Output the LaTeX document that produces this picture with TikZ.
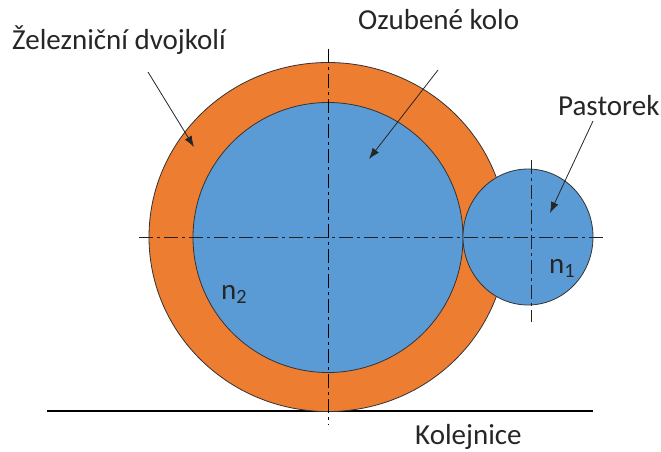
\documentclass[tikz,border=0pt]{standalone}
\usepackage{fontspec}
\setmainfont{Carlito}
\definecolor{wheelor}{HTML}{ED7D31}
\definecolor{gearbl}{HTML}{5B9BD5}
\definecolor{axisc}{HTML}{222222}
\usetikzlibrary{arrows.meta}
\tikzset{
  x=1pt,y=-1pt,
  wheel/.style={draw=black!80!white,line width=0.8pt},
  axisline/.style={draw=axisc,line width=0.9pt,dash pattern=on 14pt off 4pt on 3pt off 4pt},
  mainaxis/.style={draw=black,line width=1.1pt,dash pattern=on 14pt off 4pt on 3pt off 4pt},
  pointer/.style={draw=black!85!white,line width=0.8pt,-{Latex[length=11pt,width=8pt]}},
  rail/.style={draw=black,line width=2.2pt},
  lbl/.style={font=\fontsize{29}{32}\selectfont,text=black!85!white,inner sep=0pt,anchor=base west},
}
\begin{document}
\begin{tikzpicture}
\useasboundingbox (0,0) rectangle (661,452);
\coordinate (rA) at (47,411);
\coordinate (rB) at (593,411);
\draw[rail] (rA) -- (rB);
\filldraw[wheel,fill=wheelor] (328,237) ellipse [x radius=179,y radius=174.5];
\filldraw[wheel,fill=gearbl] (328,237.5) circle [radius=135];
\filldraw[wheel,fill=gearbl] (528,237) ellipse [x radius=65,y radius=68];
\coordinate (h1) at (139,237);
\coordinate (h2) at (606,237);
\coordinate (v1a) at (328.5,49);
\coordinate (v1b) at (328.5,425);
\coordinate (v2a) at (531,160);
\coordinate (v2b) at (531,322);
\draw[axisline] (h1) -- (h2);
\draw[mainaxis] (v1a) -- (v1b);
\draw[axisline] (v2a) -- (v2b);
\coordinate (a1) at (148,72);
\coordinate (a1e) at (194,147);
\coordinate (a2) at (438,70);
\coordinate (a2e) at (369,159);
\coordinate (a3) at (593,121);
\coordinate (a3e) at (550,213);
\draw[pointer] (a1) -- (a1e);
\draw[pointer] (a2) -- (a2e);
\draw[pointer] (a3) -- (a3e);
\node[lbl] (t1) at (12,50) {Železniční dvojkolí};
\node[lbl] (t2) at (358,30) {Ozubené kolo};
\node[lbl] (t3) at (558,115) {Pastorek};
\node[lbl] (t4) at (415,444) {Kolejnice};
\node[lbl] (t5) at (221,299) {n\textsubscript{2}};
\node[lbl] (t6) at (549,273) {n\textsubscript{1}};
\end{tikzpicture}
\end{document}
